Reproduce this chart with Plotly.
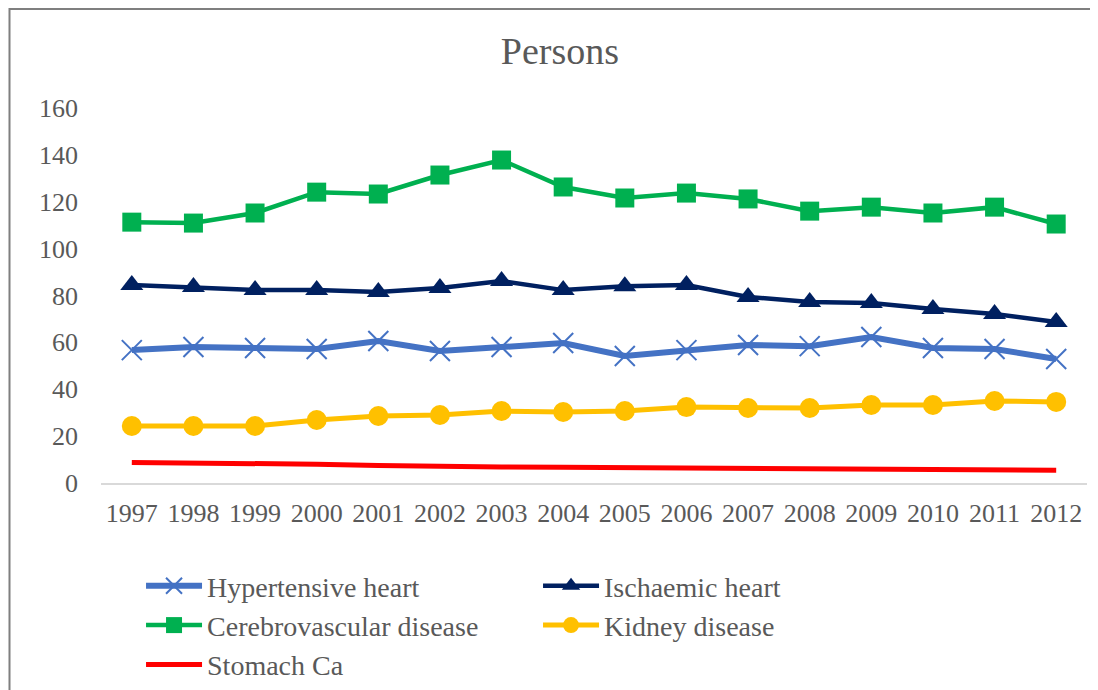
import plotly.graph_objects as go

years = [str(y) for y in range(1997, 2013)]

hypertensive = [56.7, 58.0, 57.6, 57.2, 60.6, 56.3, 58.0, 59.7, 54.2, 56.7, 58.9, 58.4, 62.3, 57.6, 57.2, 52.9]
ischaemic = [84.5, 83.6, 82.3, 82.3, 81.5, 83.2, 86.2, 82.3, 84.0, 84.5, 79.4, 77.2, 76.8, 74.2, 72.1, 68.7]
cerebro = [111.3, 110.9, 115.2, 124.1, 123.3, 131.4, 137.8, 126.3, 121.6, 123.7, 121.2, 116.0, 117.7, 115.2, 117.7, 110.5]
kidney = [24.3, 24.3, 24.3, 26.9, 28.6, 29.0, 30.7, 30.3, 30.7, 32.4, 32.0, 32.0, 33.3, 33.3, 35.0, 34.6]
stomach = [8.8, 8.6, 8.5, 8.0, 7.5, 7.0, 6.8, 6.7, 6.5, 6.3, 6.0, 5.9, 5.8, 5.7, 5.6, 5.4]

grijs = "#595959"

fig = go.Figure()

fig.add_trace(go.Scatter(x=years, y=hypertensive, name="Hypertensive heart", mode="lines+markers",
                         line=dict(color="#4472C4", width=6),
                         marker=dict(symbol="x-thin", size=20, line=dict(color="#4472C4", width=2))))
fig.add_trace(go.Scatter(x=years, y=ischaemic, name="Ischaemic heart", mode="lines+markers",
                         line=dict(color="#002060", width=4.5),
                         marker=dict(symbol="triangle-up", size=20, color="#002060")))
fig.add_trace(go.Scatter(x=years, y=cerebro, name="Cerebrovascular disease", mode="lines+markers",
                         line=dict(color="#00B050", width=4.5),
                         marker=dict(symbol="square", size=19, color="#00B050")))
fig.add_trace(go.Scatter(x=years, y=kidney, name="Kidney disease", mode="lines+markers",
                         line=dict(color="#FFC000", width=5),
                         marker=dict(symbol="circle", size=20, color="#FFC000")))
fig.add_trace(go.Scatter(x=years, y=stomach, name="Stomach Ca", mode="lines",
                         line=dict(color="#FF0000", width=5)))

# titel en opmaak (pagina heeft 8px marge, daarom 1090x682)
fig.update_layout(
    title=dict(text="Persons", x=0.5064, xanchor="center", y=0.938, yanchor="middle",
               font=dict(family="Liberation Serif", size=38, color=grijs)),
    width=1090, height=682,
    margin=dict(l=93, r=11, t=100, b=207, autoexpand=False),
    paper_bgcolor="white", plot_bgcolor="white",
    font=dict(family="Liberation Serif", color=grijs),
    showlegend=True,
    legend=dict(orientation="h", x=0.0406, xanchor="left", y=-0.208, yanchor="top",
                font=dict(size=28, color=grijs), itemwidth=56, entrywidth=326,
                bgcolor="rgba(0,0,0,0)", traceorder="normal"),
)

fig.update_xaxes(type="category", range=[-0.5, 15.5], showline=True, linecolor="#D9D9D9", linewidth=2,
                 showgrid=False, zeroline=False, ticks="", ticklabelstandoff=6,
                 tickfont=dict(size=26, color=grijs))
fig.update_yaxes(range=[0, 160], dtick=20, showline=False, showgrid=False, zeroline=False,
                 ticks="", ticklabelstandoff=22, tickfont=dict(size=26, color=grijs))

# rand om de grafiek
fig.add_shape(type="rect", xref="paper", yref="paper",
              x0=(1.5 - 93) / 986, x1=(1110 - 93) / 986,
              y0=(475 - 720) / 375, y1=(475 - 1) / 375,
              line=dict(color="#7F7F7F", width=2), fillcolor="rgba(0,0,0,0)", layer="below")

fig.write_html("out.html")
